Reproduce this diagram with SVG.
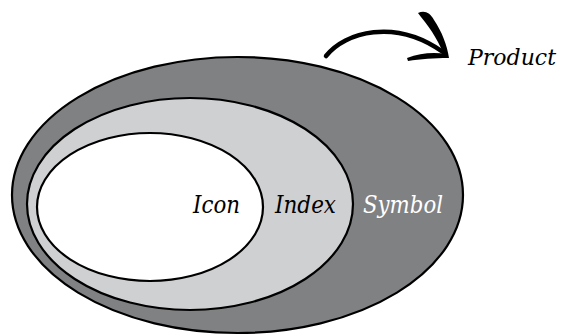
<svg xmlns="http://www.w3.org/2000/svg" width="565" height="335" viewBox="0 0 565 335">
<style>
.ring{stroke:#000;stroke-width:2.2}
.lbl{font-family:"DejaVu Serif",serif;font-style:italic;font-size:25px}
</style>
<rect width="565" height="335" fill="#fff"/>
<g id="symbol">
<ellipse class="ring" cx="237.5" cy="195" rx="225.5" ry="138" fill="#808183"/>
<text class="lbl" x="363" y="213" textLength="80" lengthAdjust="spacingAndGlyphs" fill="#fff">Symbol</text>
</g>
<g id="index">
<ellipse class="ring" cx="190" cy="204" rx="163" ry="106" fill="#cfd0d2"/>
<text class="lbl" x="275" y="213" textLength="61" lengthAdjust="spacingAndGlyphs" fill="#000">Index</text>
</g>
<g id="icon">
<ellipse class="ring" cx="150" cy="207" rx="113" ry="74" fill="#fff"/>
<text class="lbl" x="193" y="213" textLength="47" lengthAdjust="spacingAndGlyphs" fill="#000">Icon</text>
</g>
<g id="product">
<text class="lbl" x="556" y="65" text-anchor="end" fill="#000" style="font-size:22px">Product</text>
</g>
<g id="connectors">
<path d="M326,56 C345,32 395,18 443,52" fill="none" stroke="#000" stroke-width="4.5" stroke-linecap="round"/>
<path d="M418,13 C424,10 430,12 434,20 C442,32 447,45 449,58 L445,58 C440,44 432,30 421,17 Z" fill="#000"/>
<path d="M407,58 C420,53 433,52 447,54 L448,58 C435,58 420,59 408,61 Z" fill="#000"/>
</g>
</svg>
